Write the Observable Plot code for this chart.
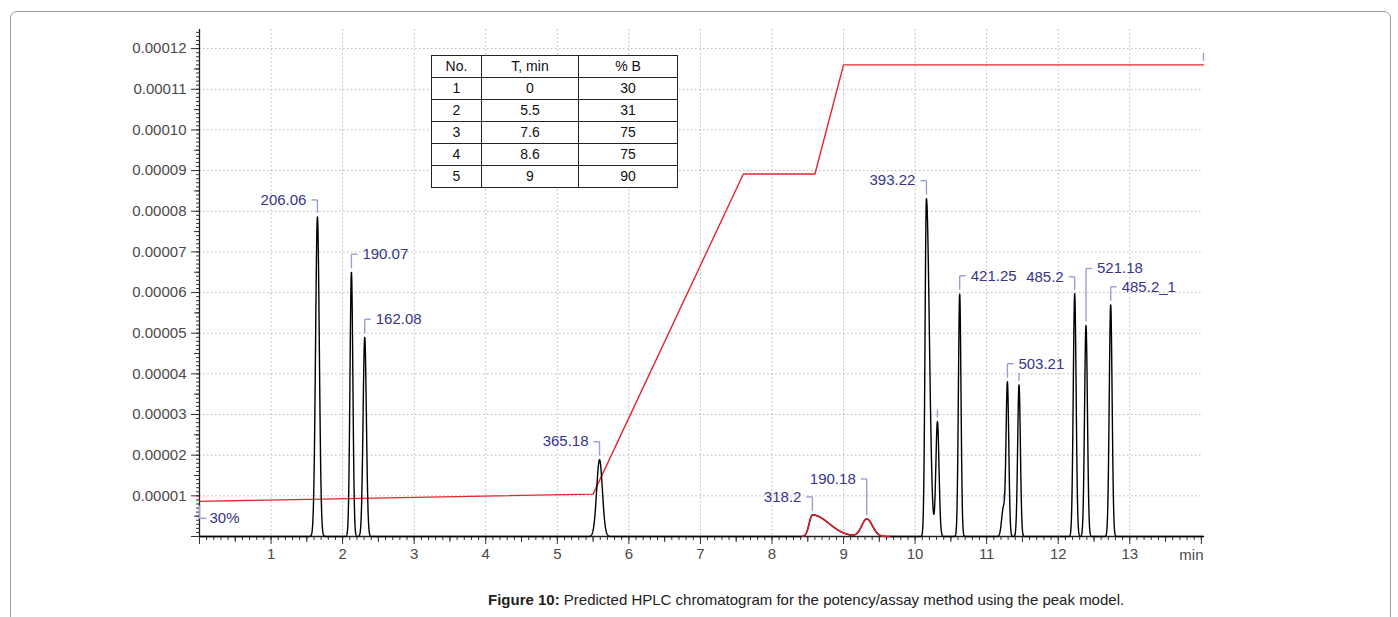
<!DOCTYPE html>
<html>
<head>
<meta charset="utf-8">
<script src="https://cdn.jsdelivr.net/npm/d3@7"></script>
<script src="https://cdn.jsdelivr.net/npm/@observablehq/plot@0.6"></script>
<style>
  body { margin: 0; background: #fff; font-family: "Liberation Sans", Arial, sans-serif; }
  #wrap { position: relative; width: 1398px; height: 617px; overflow: hidden; }
  #frame { position: absolute; left: 10px; top: 11px; width: 1381px; height: 660px;
           border: 1px solid #9a9a9a; border-radius: 7px; box-sizing: border-box; }
  #chart { position: absolute; left: 0; top: 0; }
  #prog { position: absolute; left: 431px; top: 55px; border-collapse: collapse; table-layout: fixed;
          background: #fff; font-size: 14px; color: #111; }
  #prog td { border: 1px solid #222; height: 21px; padding: 0; text-align: center; line-height: 21px; }
  #caption { position: absolute; left: 488px; top: 591px; font-size: 15px; color: #222; white-space: nowrap; }
</style>
</head>
<body>
<div id="wrap">
  <div id="frame"></div>
  <div id="chart"></div>
  <table id="prog"></table>
  <div id="caption"><b>Figure 10:</b> Predicted HPLC chromatogram for the potency/assay method using the peak model.</div>
</div>
<script>
// Gradient program (time in min, %B)
const gradTime = [0, 5.5, 7.6, 8.6, 9];
const gradB = [30, 31, 75, 75, 90];
const runEnd = 14.03;

// Peak model: retention time (min), apex height, left/right widths (min), name
const peakTime   = [1.648, 2.123, 2.309, 5.590, 8.565, 9.324, 10.158, 10.312, 10.623, 11.234, 11.290, 11.452, 12.230, 12.388, 12.733];
const peakHeight = [7.86e-5, 6.50e-5, 4.90e-5, 1.89e-5, 0.53e-5, 0.43e-5, 8.31e-5, 2.82e-5, 5.97e-5, 0.70e-5, 3.75e-5, 3.73e-5, 5.97e-5, 5.19e-5, 5.70e-5];
const peakSigmaL = [0.026, 0.020, 0.023, 0.040, 0.045, 0.070, 0.019, 0.022, 0.018, 0.025, 0.019, 0.019, 0.020, 0.020, 0.020];
const peakSigmaR = [0.026, 0.020, 0.023, 0.040, 0.230, 0.080, 0.041, 0.022, 0.018, 0.025, 0.019, 0.019, 0.020, 0.020, 0.020];
const peakName   = ["206.06", "190.07", "162.08", "365.18", "318.2", "190.18", "393.22", "", "421.25", "", "503.21", "", "485.2", "521.18", "485.2_1"];

// Axis ticks
const xTickLabels = [1, 2, 3, 4, 5, 6, 7, 8, 9, 10, 11, 12, 13];
const yTickLabels = [0.00001, 0.00002, 0.00003, 0.00004, 0.00005, 0.00006, 0.00007, 0.00008, 0.00009, 0.00010, 0.00011, 0.00012];
const xUnit = "min";

// ---- layout ----
const W = 1398, H = 576;
const mL = 199, mR = 195, mT = 29, mB = 40;
const yTop = 0.0001247;
const pxX = runEnd / (W - mL - mR);         // minutes per pixel
const pxY = yTop / (H - mT - mB);           // signal units per pixel

// %B overlay drawn on the signal axis: %B at signal 0 and at the top of the axis
const bAtZero = 25.17, bAtTop = 94.86;
const bToSignal = b => (b - bAtZero) / (bAtTop - bAtZero) * yTop;

// Label placement for named peaks (side of the bracket, lift in px above apex)
const labelLayout = {
  "206.06": ["left", 17], "190.07": ["right", 18], "162.08": ["right", 18],
  "365.18": ["left", 18], "318.2": ["left", 18], "190.18": ["left", 40],
  "393.22": ["left", 18], "421.25": ["right", 18], "503.21": ["right", 18],
  "485.2": ["left", 17], "521.18": ["right", 57], "485.2_1": ["right", 18]
};

// ---- peak model signal ----
function signalAt(t) {
  let s = 0;
  for (let i = 0; i < peakTime.length; i++) {
    const d = t - peakTime[i];
    const sg = d < 0 ? peakSigmaL[i] : peakSigmaR[i];
    s += peakHeight[i] * Math.exp(-d * d / (2 * sg * sg));
  }
  return s;
}
const trace = d3.range(0, runEnd + 1e-9, 0.002).map(t => ({t, v: signalAt(t)}));

// Unresolved pair (318.2 / 190.18) highlighted in red
const hiStart = peakTime[4] - 3 * peakSigmaL[4];
const hiEnd = peakTime[5] + 4 * peakSigmaR[5];
const traceHi = trace.filter(d => d.t >= hiStart && d.t <= hiEnd);

// Gradient line
const grad = gradTime.map((t, i) => ({t, v: bToSignal(gradB[i])}));
grad.push({t: runEnd, v: bToSignal(gradB[gradB.length - 1])});

// Peak labels
const peaks = peakTime.map((t, i) => ({t, apex: signalAt(t), name: peakName[i]}));
const named = peaks.filter(p => p.name).map(p => {
  const [side, lift] = labelLayout[p.name];
  const s = side === "left" ? -1 : 1;
  return {...p, side, y0: p.apex + 4 * pxY, y1: p.apex + lift * pxY, x2: p.t + s * 6 * pxX};
});
const unnamed = peaks.filter(p => !p.name).map(p => ({...p, y0: p.apex + 4 * pxY, y1: p.apex + 12 * pxY}));

const gStart = grad[0], gEnd = grad[grad.length - 1];
const startMark = {t: 0, y0: gStart.v - 4 * pxY, y1: gStart.v - 17 * pxY, x2: 7 * pxX, text: gradB[0] + "%"};
const endMark = {t: runEnd, y0: gEnd.v + 4 * pxY, y1: gEnd.v + 12 * pxY};

const labelBlue = "#35358a", leader = "#9d9dd2";

const minorX = d3.range(0, 141).map(i => i / 10).filter(v => v <= runEnd);
const midX = d3.range(0, 14).map(i => i + 0.5);
const majorX = d3.range(0, 15);
const minorY = d3.range(1, 125).map(i => i * 1e-6);
const midY = d3.range(0, 12).map(i => (i + 0.5) * 1e-5);
const majorY = [0, ...yTickLabels];

const chart = Plot.plot({
  width: W, height: H,
  marginLeft: mL, marginRight: mR, marginTop: mT, marginBottom: mB,
  style: {fontFamily: '"Liberation Sans", Arial, sans-serif', fontSize: "15px", color: "#4a4a4a", background: "transparent"},
  x: {domain: [0, runEnd]},
  y: {domain: [0, yTop]},
  marks: [
    Plot.gridX({ticks: xTickLabels, stroke: "#b8b8b8", strokeOpacity: 1, strokeDasharray: "1.5,2.5"}),
    Plot.gridY({ticks: yTickLabels, stroke: "#b8b8b8", strokeOpacity: 1, strokeDasharray: "1.5,2.5"}),
    // axis ticks
    Plot.axisX({ticks: minorX, tickSize: 4, tickFormat: () => "", stroke: "#333"}),
    Plot.axisX({ticks: midX, tickSize: 6, tickFormat: () => "", stroke: "#333"}),
    Plot.axisX({ticks: majorX, tickSize: 8, tickPadding: 4, stroke: "#333", fill: "#4a4a4a",
                tickFormat: d => xTickLabels.includes(d) ? String(d) : ""}),
    Plot.text([xUnit], {x: runEnd, y: 0, text: d => d, textAnchor: "end", dy: 19, fill: "#4a4a4a"}),
    Plot.axisY({ticks: minorY, tickSize: 3, tickFormat: () => "", stroke: "#333"}),
    Plot.axisY({ticks: midY, tickSize: 5, tickFormat: () => "", stroke: "#333"}),
    Plot.axisY({ticks: majorY, tickSize: 8, tickPadding: 5, stroke: "#333", fill: "#4a4a4a",
                tickFormat: d => d === 0 ? "" : d3.format(".5f")(d)}),
    Plot.ruleX([0], {stroke: "#222", strokeWidth: 1.3}),
    Plot.ruleY([0], {stroke: "#222", strokeWidth: 1.3}),
    // gradient %B
    Plot.line(grad, {x: "t", y: "v", stroke: "#e3262b", strokeWidth: 1.4}),
    // chromatogram
    Plot.line(trace, {x: "t", y: "v", stroke: "#000", strokeWidth: 1.4}),
    Plot.line(traceHi, {x: "t", y: "v", stroke: "#d42027", strokeWidth: 1.6}),
    // peak label leaders
    Plot.link(named, {x1: "t", x2: "t", y1: "y0", y2: "y1", stroke: leader, strokeWidth: 1.4}),
    Plot.link(named, {x1: "t", x2: "x2", y1: "y1", y2: "y1", stroke: leader, strokeWidth: 1.4}),
    Plot.link(unnamed, {x1: "t", x2: "t", y1: "y0", y2: "y1", stroke: leader, strokeWidth: 1.4}),
    Plot.text(named.filter(d => d.side === "left"), {x: "t", y: "y1", text: "name", textAnchor: "end", dx: -11, fill: labelBlue}),
    Plot.text(named.filter(d => d.side === "right"), {x: "t", y: "y1", text: "name", textAnchor: "start", dx: 11, fill: labelBlue}),
    // gradient end labels
    Plot.link([startMark], {x1: "t", x2: "t", y1: "y0", y2: "y1", stroke: leader, strokeWidth: 1.4}),
    Plot.link([startMark], {x1: "t", x2: "x2", y1: "y1", y2: "y1", stroke: leader, strokeWidth: 1.4}),
    Plot.text([startMark], {x: "t", y: "y1", text: "text", textAnchor: "start", dx: 10, fill: labelBlue}),
    Plot.link([endMark], {x1: "t", x2: "t", y1: "y0", y2: "y1", stroke: leader, strokeWidth: 1.4})
  ]
});
document.getElementById("chart").appendChild(chart);

// Gradient program table
const table = document.getElementById("prog");
const colW = [50, 97, 99];
const cg = document.createElement("colgroup");
colW.forEach(w => { const c = document.createElement("col"); c.style.width = w + "px"; cg.appendChild(c); });
table.appendChild(cg);
table.style.width = d3.sum(colW) + "px";
const rows = [["No.", "T, min", "% B"], ...gradTime.map((t, i) => [i + 1, t, gradB[i]])];
rows.forEach(r => {
  const tr = document.createElement("tr");
  r.forEach(v => { const td = document.createElement("td"); td.textContent = v; tr.appendChild(td); });
  table.appendChild(tr);
});
</script>
</body>
</html>
